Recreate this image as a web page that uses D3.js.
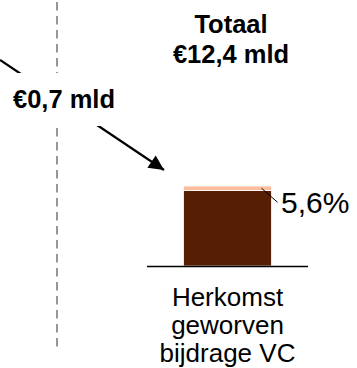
<!DOCTYPE html>
<html>
<head>
<meta charset="utf-8">
<script src="https://cdn.jsdelivr.net/npm/d3@7"></script>
<style>
  html, body { margin: 0; padding: 0; background: #fff; }
  svg { display: block; font-family: Arial, "Liberation Sans", sans-serif; }
</style>
</head>
<body>
<svg id="chart" width="357" height="368"></svg>
<script>
// Origin of the acquired contribution (VC), in % of the total
const categories = ["Herkomst geworven bijdrage VC"];
const categoryLines = ["Herkomst", "geworven", "bijdrage VC"];
const segmentNames = ["overig", "VC"];
const segmentValues = [94.4, 5.6];
const segmentColors = ["#561e02", "#fbbd9e"];
const shareLabel = "5,6%";
const totalLabel = ["Totaal", "€12,4 mld"];
const transferLabel = "€0,7 mld";

const svg = d3.select("#chart");

const x = d3.scaleBand()
  .domain(categories)
  .range([147, 308])
  .paddingInner(0)
  .paddingOuter(0.415);

const y = d3.scaleLinear().domain([0, 100]).range([266, 186]);

// stacked segments
const stackData = [Object.fromEntries(segmentNames.map((n, i) => [n, segmentValues[i]]))];
stackData[0].cat = categories[0];
const series = d3.stack().keys(segmentNames)(stackData);

// vertical dashed divider
svg.append("line")
  .attr("x1", 57).attr("x2", 57)
  .attr("y1", 2).attr("y2", 348)
  .attr("stroke", "#858585")
  .attr("stroke-width", 1.7)
  .attr("stroke-dasharray", "8.5,5.5");

// arrow marker
svg.append("defs").append("marker")
  .attr("id", "arrow")
  .attr("viewBox", "0 0 10 10")
  .attr("refX", 10).attr("refY", 5)
  .attr("markerUnits", "userSpaceOnUse")
  .attr("markerWidth", 18).attr("markerHeight", 15)
  .attr("orient", "auto")
  .append("path")
  .attr("d", "M0,0 L10,5 L0,10 Z")
  .attr("fill", "#000");

const bandCx = x(categories[0]) + x.bandwidth() / 2;

// arrow toward the bar
svg.append("line")
  .attr("x1", 0).attr("y1", 60)
  .attr("x2", 164).attr("y2", 170)
  .attr("stroke", "#000")
  .attr("stroke-width", 2.2)
  .attr("marker-end", "url(#arrow)");

// label box covering line and divider
svg.append("rect")
  .attr("x", -2).attr("y", 73)
  .attr("width", 124).attr("height", 53)
  .attr("fill", "#fff");

svg.append("text")
  .attr("x", 64).attr("y", 108)
  .attr("text-anchor", "middle")
  .attr("font-weight", "bold")
  .attr("font-size", 25.5)
  .attr("fill", "#000")
  .text(transferLabel);

// bars
svg.append("g").selectAll("rect")
  .data(series)
  .join("rect")
  .attr("x", x(categories[0]))
  .attr("width", x.bandwidth())
  .attr("y", d => y(d[0][1]))
  .attr("height", d => y(d[0][0]) - y(d[0][1]))
  .attr("fill", (d, i) => segmentColors[i])
  .attr("stroke", "#fff")
  .attr("stroke-width", 0.8);

// baseline
svg.append("line")
  .attr("x1", x.range()[0]).attr("x2", x.range()[1])
  .attr("y1", y(0) + 0.5).attr("y2", y(0) + 0.5)
  .attr("stroke", "#000")
  .attr("stroke-width", 1.5);

// share label with leader
const vcTop = series[1][0];
const leadY = (y(vcTop[0]) + y(vcTop[1])) / 2;
const barRight = x(categories[0]) + x.bandwidth();
svg.append("line")
  .attr("x1", barRight - 10).attr("y1", leadY)
  .attr("x2", barRight + 6).attr("y2", leadY + 14)
  .attr("stroke", "#000")
  .attr("stroke-width", 1);

svg.append("text")
  .attr("x", 281).attr("y", 213)
  .attr("font-size", 30)
  .attr("fill", "#000")
  .text(shareLabel);

// category label
svg.append("text")
  .attr("x", bandCx)
  .attr("text-anchor", "middle")
  .attr("font-size", 26)
  .attr("fill", "#000")
  .selectAll("tspan")
  .data(categoryLines)
  .join("tspan")
  .attr("x", bandCx)
  .attr("y", (d, i) => 306 + i * 28)
  .text(d => d);

// total label
svg.append("text")
  .attr("text-anchor", "middle")
  .attr("font-weight", "bold")
  .attr("font-size", 25.5)
  .attr("fill", "#000")
  .selectAll("tspan")
  .data(totalLabel)
  .join("tspan")
  .attr("x", 231)
  .attr("y", (d, i) => 33 + i * 30)
  .text(d => d);
</script>
</body>
</html>
